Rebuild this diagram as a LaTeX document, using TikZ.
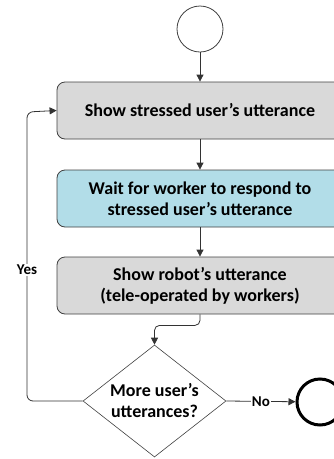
\documentclass[tikz,border=0pt]{standalone}
\usepackage{fontspec}
\setmainfont{Carlito}
\usetikzlibrary{shapes.geometric,arrows.meta}
\definecolor{boxgray}{RGB}{217,217,217}
\definecolor{waitblue}{RGB}{178,221,232}
\begin{document}
\begin{tikzpicture}[x=1pt,y=-1pt,
    actbox/.style={draw=black!75, line width=0.8pt, rounded corners=8pt,
      minimum width=286pt, minimum height=57pt, align=center,
      font=\fontsize{18}{21}\selectfont\bfseries},
    decision/.style={diamond, draw=black!75, line width=0.6pt, aspect=1.3,
      inner sep=0pt, minimum width=143pt, minimum height=112pt, align=center,
      font=\fontsize{18}{21}\selectfont\bfseries},
    flow/.style={draw=black!80, line width=0.8pt, -{Triangle[length=7pt,width=7pt]}},
    lbl/.style={fill=white, inner sep=1pt, font=\fontsize{15}{17}\selectfont\bfseries}]
  \useasboundingbox (0,0) rectangle (334,459);
  \clip (0,0) rectangle (334,459);
  \node [circle, draw=black!75, line width=0.8pt, minimum size=46pt, inner sep=0pt] (start) at (200,29) {};
  \node [actbox, fill=boxgray] (show) at (200,110.5) {Show stressed user's utterance};
  \node [actbox, fill=waitblue] (wait) at (200,198.5) {Wait for worker to respond to\\stressed user's utterance};
  \node [actbox, fill=boxgray] (robot) at (200,285.5) {Show robot’s utterance\\(tele-operated by workers)};
  \node [decision] (more) at (154.5,401) {More user’s\\utterances?};
  \node [circle, draw=black, line width=3pt, minimum size=46pt, inner sep=0pt] (stop) at (320,402) {};
  \coordinate (yesbend) at (27,112);
  % main flow
  \draw [flow] (start) -- (show);
  \draw [flow] (show) -- (wait);
  \draw [flow] (wait) -- (robot);
  \draw [flow, rounded corners=5pt] (robot.south) -- ++(0,11) -| (more.north);
  % loop back and exit
  \draw [flow, rounded corners=6pt] (more.west) -| (yesbend) -- (show.west);
  \node [lbl] (yes) at (27,270) {Yes};
  \draw [flow] (more.east) -- node [lbl] (no) {No} (stop);
\end{tikzpicture}
\end{document}
